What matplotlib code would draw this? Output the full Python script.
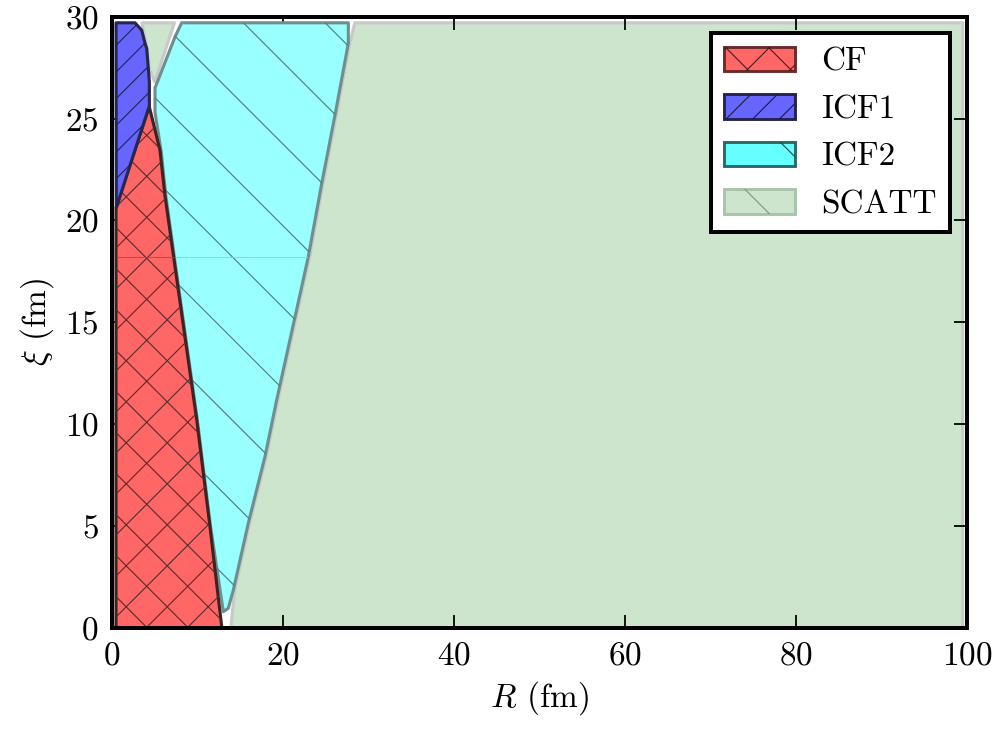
import numpy as np
import matplotlib
matplotlib.use('Agg')
import matplotlib.pyplot as plt
from matplotlib.patches import Polygon, Patch
from matplotlib.collections import LineCollection
from matplotlib.transforms import IdentityTransform
from matplotlib.legend_handler import HandlerPatch

plt.rcParams['font.family'] = 'cmr10'
plt.rcParams['mathtext.fontset'] = 'cm'
plt.rcParams['axes.formatter.use_mathtext'] = True

# region boundaries (R in fm, xi in fm)
cf_R = [0.47, 0.47, 4.35, 5.61, 6.2, 7.37, 9.91, 11.46, 12.85]
cf_xi = [0.0, 20.62, 25.6, 23.45, 21.2, 17.73, 10.21, 4.97, 0.0]

icf1_R = [0.5, 0.47, 2.69, 3.47, 3.86, 4.06, 4.37, 4.37, 4.35]
icf1_xi = [20.62, 29.7, 29.7, 29.34, 28.7, 28.44, 26.8, 25.66, 25.6]

icf2_R = [8.15, 7.37, 5.03, 5.03, 5.75, 6.3, 7.45, 9.98, 11.53, 13.02,
          13.6, 14.19, 15.94, 17.89, 19.26, 22.96, 24.53, 26.08, 27.64, 27.64]
icf2_xi = [29.7, 29.01, 26.5, 25.3, 23.4, 21.2, 17.73, 10.21, 4.97, 0.8,
           0.97, 1.86, 5.14, 8.41, 11.19, 18.22, 21.82, 25.17, 28.69, 29.7]

scatt_R = [13.9, 14.35, 16.1, 18.05, 19.42, 23.12, 24.69, 26.24, 27.8, 28.4, 99.5, 99.5]
scatt_xi = [0.0, 1.86, 5.14, 8.41, 11.19, 18.22, 21.82, 25.17, 28.69, 29.7, 29.7, 0.0]

scatt2_R = [3.5, 7.3, 5.0, 4.4, 4.1]
scatt2_xi = [29.7, 29.7, 26.8, 27.4, 28.4]

seam_xi = 18.2

labels = ['CF', 'ICF1', 'ICF2', 'SCATT']

DPI = 160
PT = DPI / 72.0
fig = plt.figure(figsize=(997 / DPI, 729 / DPI), dpi=DPI)
ax = fig.add_axes([112 / 997, 101 / 729, 855 / 997, 611.3 / 729])


def add_region(R, xi, face, edge, lw, z):
    p = Polygon(np.column_stack([R, xi]), closed=True, facecolor=face,
                edgecolor=edge, linewidth=lw, zorder=z, joinstyle='round')
    ax.add_patch(p)
    return p


def hatch(patch, spacing, phase, up, color, lw=0.5):
    # 45 degree lines in pixel space, clipped to the region
    W, H = 997, 729
    segs = []
    for c in phase + spacing * np.arange(-80, 80):
        if up and -W <= c <= H:
            segs.append([(0, c), (W, W + c)])
        elif not up and 0 <= c <= W + H:
            segs.append([(0, c), (W, c - W)])
    lc = LineCollection(segs, colors=color, linewidths=lw,
                        transform=IdentityTransform(), zorder=patch.get_zorder() + 0.05)
    lc.set_clip_path(patch)
    ax.add_collection(lc, autolim=False)


class HatchHandler(HandlerPatch):
    # legend box with a few hand-placed hatch lines
    def __init__(self, down_starts=(), up_starts=(), color='k', **kw):
        super().__init__(**kw)
        self.down_starts = down_starts
        self.up_starts = up_starts
        self.color = color

    def create_artists(self, legend, orig_handle, xdescent, ydescent,
                       width, height, fontsize, trans):
        p = super().create_artists(legend, orig_handle, xdescent, ydescent,
                                   width, height, fontsize, trans)[0]
        x0, y0 = -xdescent, -ydescent
        segs = []
        for s in self.down_starts:
            xs = x0 + s / PT
            segs.append([(xs - 50, y0 + height + 50), (xs + 50, y0 + height - 50)])
        for s in self.up_starts:
            xs = x0 + s / PT
            segs.append([(xs - 50, y0 - 50), (xs + 50, y0 + 50)])
        lc = LineCollection(segs, colors=self.color, linewidths=0.5, transform=trans)
        lc.set_clip_path(p)
        return [p, lc]


g1 = add_region(scatt_R, scatt_xi, '#cce5cc', '#c9c9c9', 1.4, 1)
g2 = add_region(scatt2_R, scatt2_xi, '#cce5cc', '#c9c9c9', 1.4, 1)
c2 = add_region(icf2_R, icf2_xi, '#99ffff', '#6f8f8f', 1.4, 2)
c1 = add_region(cf_R, cf_xi, '#ff6666', '#3d2424', 1.4, 3)
b1 = add_region(icf1_R, icf1_xi, '#6666ff', '#26264f', 1.4, 4)

hatch(c1, 41.0, 119, True, '#5a2a2a')
hatch(c1, 41.0, 412.4, False, '#5a2a2a')
hatch(b1, 26.7, 567.6, True, '#22224a')
hatch(c2, 81.7, 949.6, False, '#4f7a7a')

# thin seam line visible across the filled regions
cf_right_R = np.interp(seam_xi, cf_xi[2:][::-1], cf_R[2:][::-1])
icf2_right_R = np.interp(seam_xi, icf2_xi[10:], icf2_R[10:])
ax.plot([cf_R[0] + 0.1, cf_right_R - 0.1], [seam_xi, seam_xi], color='#ff2020', lw=0.35, zorder=3.5)
ax.plot([cf_right_R + 0.2, icf2_right_R - 0.1], [seam_xi, seam_xi], color='#40f0f0', lw=0.35, zorder=2.5)

ax.set_xlim(0, 100)
ax.set_ylim(0, 30)
ax.set_xticks(np.arange(0, 101, 20))
ax.set_yticks(np.arange(0, 31, 5))
ax.tick_params(direction='in', length=6, width=0.8, top=True, right=True,
               labelsize=15, pad=6)
for s in ax.spines.values():
    s.set_linewidth(1.8)
    s.set_zorder(10)

ax.set_xlabel(r'$R$ (fm)', fontsize=15, labelpad=4)
ax.set_ylabel(r'$\xi$ (fm)', fontsize=15, labelpad=4)

h_cf = Patch(facecolor='#ff6666', edgecolor='#6b2a2a', lw=1.3, label=labels[0])
h_icf1 = Patch(facecolor='#6666ff', edgecolor='#23234f', lw=1.3, label=labels[1])
h_icf2 = Patch(facecolor='#66ffff', edgecolor='#2e6666', lw=1.3, label=labels[2])
h_scatt = Patch(facecolor='#cce5cc', edgecolor='#a8c4a8', lw=1.3, label=labels[3])
hmap = {
    h_cf: HatchHandler(down_starts=(-42, 1, 44, 87), up_starts=(-21, 22, 65), color='#4a1a1a'),
    h_icf1: HatchHandler(up_starts=(-24, 2.7, 29.3, 56, 82.6), color='#1a1a40'),
    h_icf2: HatchHandler(down_starts=(56,), color='#1a4a4a'),
    h_scatt: HatchHandler(down_starts=(21,), color='#7a9a7a'),
}
leg = ax.legend(handles=[h_cf, h_icf1, h_icf2, h_scatt], handler_map=hmap,
                loc='upper right', fontsize=15, fancybox=False,
                framealpha=1, edgecolor='black', borderaxespad=0.5, borderpad=0.4,
                handlelength=2.13, handleheight=0.75, handletextpad=0.8, labelspacing=0.53)
leg.get_frame().set_linewidth(1.8)
leg.set_zorder(20)

fig.savefig('out.png', dpi=DPI)
